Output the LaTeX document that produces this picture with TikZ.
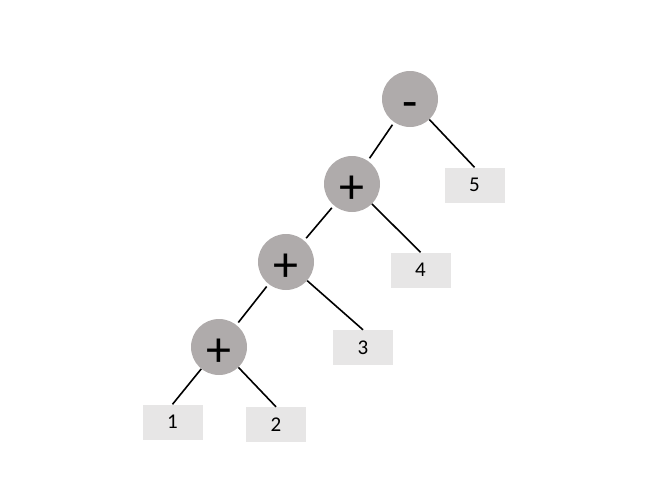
\documentclass[tikz,border=0pt]{standalone}
\usepackage{fontspec}
\setmainfont{Carlito}
\definecolor{opgray}{HTML}{AFABAB}
\definecolor{leafgray}{HTML}{E7E6E6}
\begin{document}
\begin{tikzpicture}[x=1pt,y=-1pt,
  opnode/.style={circle,fill=opgray,minimum size=56pt,inner sep=0pt},
  optext/.style={anchor=base,inner sep=0pt,font=\fontsize{50}{52}\selectfont},
  leafnode/.style={rectangle,fill=leafgray,minimum width=60pt,minimum height=35pt,inner sep=0pt,font=\fontsize{21}{24}\selectfont},
  edge/.style={draw=black,line width=1.6pt}]
\useasboundingbox (0,0) rectangle (671,493);
\node[opnode] (m) at (410,99) {};
\node[opnode] (p1) at (352,184) {};
\node[opnode] (p2) at (286,262) {};
\node[opnode] (p3) at (219,347) {};
\node[optext] (mt) at ([yshift=-19pt]m.center) {-};
\node[optext] (p1t) at ([yshift=-19pt]p1.center) {+};
\node[optext] (p2t) at ([yshift=-19pt]p2.center) {+};
\node[optext] (p3t) at ([yshift=-19pt]p3.center) {+};
\node[leafnode] (l5) at (474.5,185) {5};
\node[leafnode] (l4) at (420.5,270) {4};
\node[leafnode] (l3) at (363,347.5) {3};
\node[leafnode] (l1) at (172.5,422) {1};
\node[leafnode] (l2) at (276,424.5) {2};
\draw[edge,shorten <=3pt,shorten >=3pt] (m) -- (p1);
\draw[edge,shorten <=3pt,shorten >=3pt] (p1) -- (p2);
\draw[edge,shorten <=3pt,shorten >=3pt] (p2) -- (p3);
\draw[edge] (m) -- (l5.north);
\draw[edge] (p1) -- (l4.north);
\draw[edge] (p2) -- (l3.north);
\draw[edge] (p3) -- (l1.north);
\draw[edge] (p3) -- (l2.north);
\end{tikzpicture}
\end{document}
